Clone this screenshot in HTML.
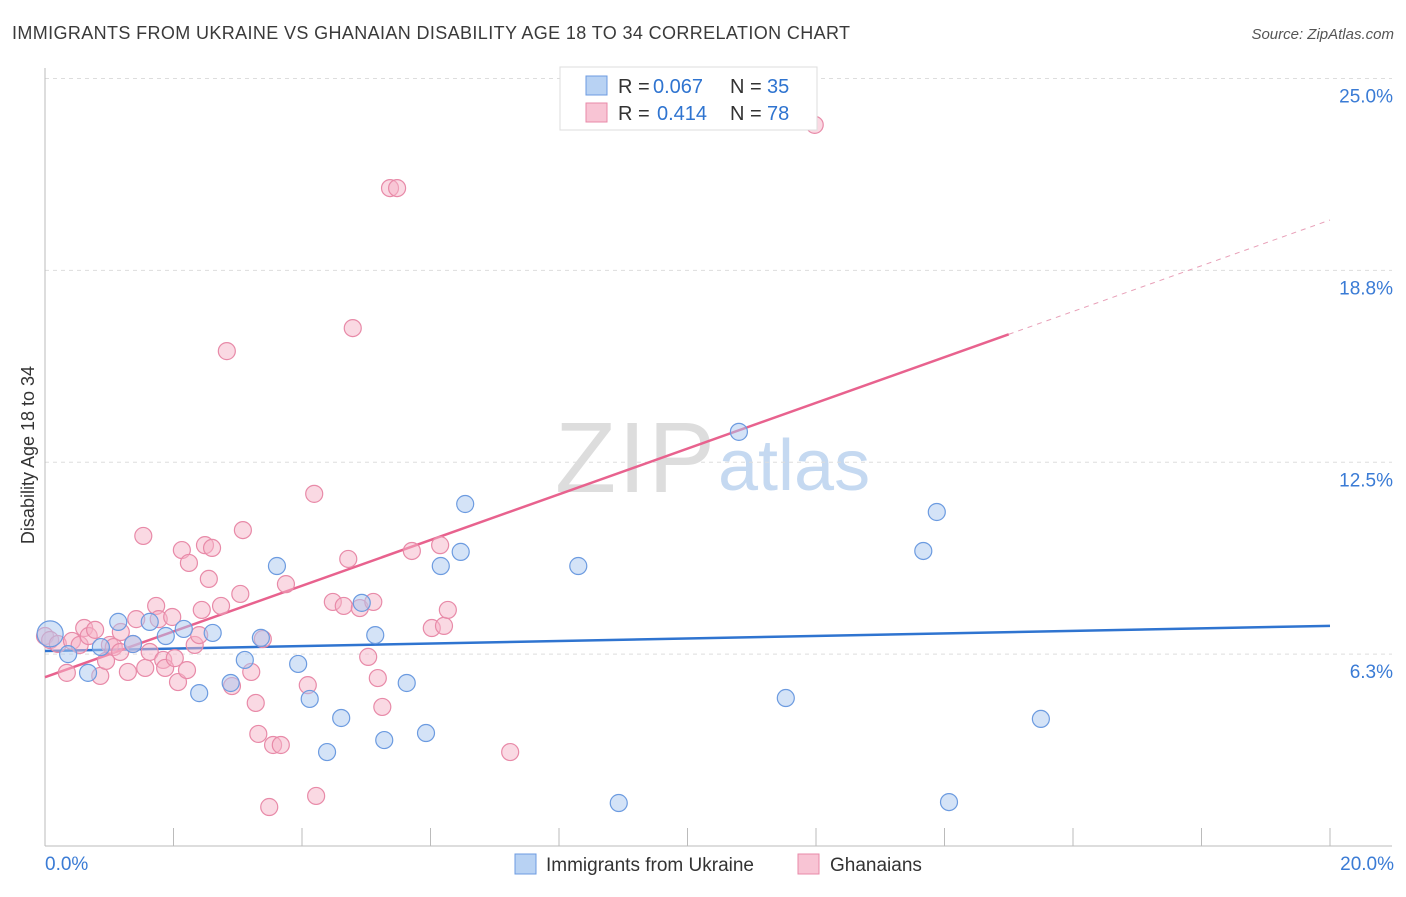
<!DOCTYPE html>
<html><head><meta charset="utf-8"><style>
body{margin:0;background:#fff;font-family:"Liberation Sans",sans-serif;}
svg text{font-family:"Liberation Sans",sans-serif;}
</style></head><body>
<svg id="chart" width="1406" height="892" xmlns="http://www.w3.org/2000/svg">
<text x="12" y="39" font-size="18" fill="#3a3a3a" textLength="838">IMMIGRANTS FROM UKRAINE VS GHANAIAN DISABILITY AGE 18 TO 34 CORRELATION CHART</text>
<text x="1394" y="39" font-size="15" fill="#555" font-style="italic" text-anchor="end">Source: ZipAtlas.com</text>
<text x="715" y="492" font-size="100" fill="#ddd" text-anchor="end" font-family="Liberation Serif" textLength="160">ZIP</text>
<text x="718" y="490" font-size="72" fill="#c5d9f1">atlas</text>
<text transform="translate(34,455) rotate(-90)" font-size="18" fill="#333" text-anchor="middle">Disability Age 18 to 34</text>
<g id="grid"></g><g id="lines"></g><g id="pts"></g>
<g>
<rect x="560" y="67" width="257" height="63" fill="#fff" stroke="#ddd"/>
<rect x="586" y="76" width="21" height="19" fill="#b8d2f3" stroke="#6c9be0"/>
<text x="618" y="93" font-size="20" fill="#333">R =</text>
<text x="653" y="93" font-size="20" fill="#2f74d0">0.067</text>
<text x="730" y="93" font-size="20" fill="#333">N =</text>
<text x="767" y="93" font-size="20" fill="#2f74d0">35</text>
<rect x="586" y="103" width="21" height="19" fill="#f8c4d4" stroke="#e88aa8"/>
<text x="618" y="120" font-size="20" fill="#333">R =</text>
<text x="657" y="120" font-size="20" fill="#2f74d0">0.414</text>
<text x="730" y="120" font-size="20" fill="#333">N =</text>
<text x="767" y="120" font-size="20" fill="#2f74d0">78</text>
</g>
<g>
<rect x="515" y="854" width="21" height="20" fill="#b8d2f3" stroke="#6c9be0"/>
<text x="546" y="871" font-size="19" fill="#333">Immigrants from Ukraine</text>
<rect x="798" y="854" width="21" height="20" fill="#f8c4d4" stroke="#e88aa8"/>
<text x="830" y="871" font-size="19" fill="#333">Ghanaians</text>
</g>
</svg>
<script>
const yTicks=[6.25,12.5,18.75,25];
const yTickLabels=["6.3%","12.5%","18.8%","25.0%"];
const xTickLabels=["0.0%","20.0%"];
const blueX=[0.08,0.36,0.67,0.87,1.14,1.37,1.63,1.88,2.16,2.40,2.61,2.89,3.11,3.36,3.61,3.94,4.12,4.39,4.61,4.93,5.14,5.28,5.63,5.93,6.16,6.47,6.54,8.30,8.93,10.80,11.53,13.67,13.88,14.07,15.50];
const blueY=[6.91,6.25,5.64,6.48,7.30,6.58,7.30,6.84,7.07,4.98,6.94,5.31,6.06,6.78,9.12,5.93,4.79,3.06,4.17,7.92,6.87,3.45,5.31,3.68,9.12,9.58,11.14,9.12,1.40,13.49,4.82,9.61,10.88,1.43,4.14];
const pinkX=[0,0.08,0.20,0.34,0.42,0.54,0.61,0.68,0.78,0.86,0.95,1.01,1.07,1.17,1.18,1.29,1.37,1.42,1.53,1.56,1.63,1.73,1.77,1.84,1.87,1.98,2.02,2.07,2.13,2.21,2.24,2.33,2.40,2.44,2.49,2.55,2.60,2.74,2.83,2.91,3.04,3.08,3.21,3.28,3.32,3.39,3.49,3.55,3.67,3.75,4.09,4.19,4.22,4.48,4.65,4.72,4.79,4.90,5.03,5.11,5.18,5.25,5.37,5.48,5.71,6.02,6.15,6.21,6.27,7.24,11.98];
const pinkY=[6.84,6.71,6.58,5.64,6.68,6.55,7.10,6.84,7.04,5.54,6.03,6.55,6.48,6.32,6.97,5.67,6.58,7.39,10.10,5.80,6.32,7.82,7.39,6.06,5.80,7.46,6.12,5.34,9.64,5.73,9.22,6.55,6.87,7.69,9.80,8.70,9.71,7.82,16.12,5.21,8.21,10.29,5.67,4.66,3.65,6.74,1.27,3.29,3.29,8.53,5.24,11.47,1.63,7.95,7.82,9.35,16.87,7.75,6.16,7.95,5.47,4.53,21.43,21.43,9.61,7.10,9.80,7.17,7.69,3.06,23.49];
const blueTrend=[6.35,7.17];
const pinkTrend=[5.50,20.39];
const pinkSolidEnd=15.0;
const NS="http://www.w3.org/2000/svg";
const xs=v=>45+v*64.25, ys=v=>846-v*30.7;
function mk(t,a,p){const e=document.createElementNS(NS,t);for(const k in a)e.setAttribute(k,a[k]);document.getElementById(p).appendChild(e);return e;}
yTicks.forEach((t,i)=>{
 const g=mk('line',{x1:45,x2:1392,y1:ys(t),y2:ys(t),stroke:'#ddd','stroke-dasharray':'4,4'},'grid');
 
 
 const l=mk('text',{x:1393,y:ys(t)+24,'font-size':19,fill:'#3a7bd5','text-anchor':'end'},'grid');l.textContent=yTickLabels[i];
 
 
});
const ax=mk('line',{x1:45,x2:1392,y1:846,y2:846,stroke:'#bbb'},'grid');


const ay=mk('line',{x1:45,x2:45,y1:68,y2:846,stroke:'#bbb'},'grid');


for(let i=0;i<=10;i++){const t=mk('line',{x1:xs(i*2),x2:xs(i*2),y1:828,y2:846,stroke:'#bbb'},'grid');
 
 }
[[0,'start',45],[20,'end',1394]].forEach((d,i)=>{const l=mk('text',{x:d[2],y:870,'font-size':19,fill:'#3a7bd5','text-anchor':d[1]},'grid');l.textContent=xTickLabels[i];
 
 });
function pts(X,Y,fill,stroke,name){X.forEach((x,i)=>{const c=mk('circle',{cx:xs(x),cy:ys(Y[i]),r:i==0&&name=='ukraine-point'?13:8.5,fill:fill,'fill-opacity':0.5,stroke:stroke,'stroke-width':1.2},'pts');
 
 });}
pts(pinkX,pinkY,'#f6b3c8','#e88aa8','ghanaian-point');
pts(blueX,blueY,'#a9c8f0','#6c9be0','ukraine-point');
const bl=mk('line',{x1:xs(0),y1:ys(blueTrend[0]),x2:xs(20),y2:ys(blueTrend[1]),stroke:'#2f74d0','stroke-width':2.5},'lines');


const pe=pinkTrend[0]+(pinkTrend[1]-pinkTrend[0])*pinkSolidEnd/20;
const pl=mk('line',{x1:xs(0),y1:ys(pinkTrend[0]),x2:xs(pinkSolidEnd),y2:ys(pe),stroke:'#e8628e','stroke-width':2.5},'lines');


const pd=mk('line',{x1:xs(pinkSolidEnd),y1:ys(pe),x2:xs(20),y2:ys(pinkTrend[1]),stroke:'#e8a0b8','stroke-width':1,'stroke-dasharray':'5,5'},'lines');


</script>
</body></html>
